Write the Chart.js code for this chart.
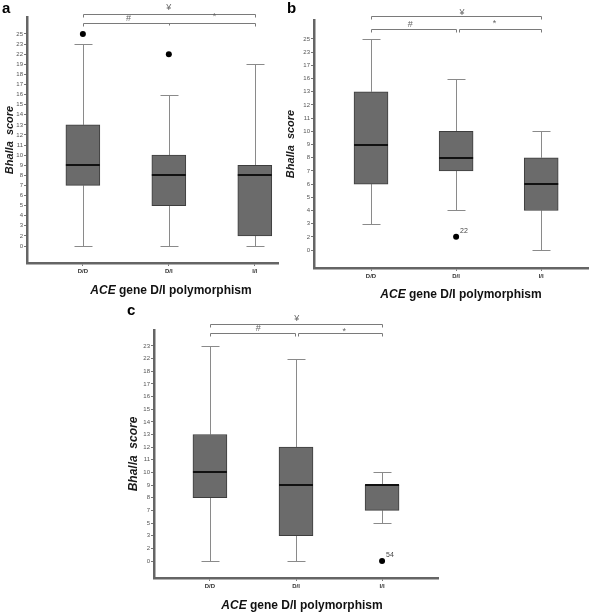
<!DOCTYPE html>
<html><head><meta charset="utf-8">
<script src="https://cdn.jsdelivr.net/npm/chart.js@4"></script>
<style>
body{margin:0;background:#fff;width:600px;height:612px;position:relative;overflow:hidden;font-family:"Liberation Sans",Arial,sans-serif}
canvas{position:absolute}
.lbl{position:absolute;font-weight:bold;font-size:15px;line-height:15px;color:#000}
.xt{position:absolute;font-weight:bold;font-size:12px;line-height:12px;white-space:nowrap;transform:translateX(-50%);color:#111}
</style></head><body>
<canvas id="ca" width="300" height="300" style="left:0;top:0"></canvas>
<canvas id="cb" width="320" height="300" style="left:280px;top:0"></canvas>
<canvas id="cc" width="340" height="312" style="left:120px;top:300px"></canvas>
<div class="lbl" style="left:2px;top:0px">a</div>
<div class="lbl" style="left:287px;top:0px">b</div>
<div class="lbl" style="left:127px;top:302px">c</div>
<div class="xt" style="left:171px;top:284px"><i>ACE</i> gene D/I polymorphism</div>
<div class="xt" style="left:461px;top:288px"><i>ACE</i> gene D/I polymorphism</div>
<div class="xt" style="left:302px;top:599px"><i>ACE</i> gene D/I polymorphism</div>
<script>
const categories = ['D/D', 'D/I', 'I/I'];

// Panel a
const aTicks = [0,2,3,4,5,6,7,8,9,10,11,12,13,14,15,16,17,18,19,22,23,25];
const aMin = [0, 0, 0];
const aQ1 = [7, 5, 2];
const aMedian = [9, 8, 8];
const aQ3 = [13, 10, 9];
const aMax = [23, 16, 19];
const aOutliers = [[25], [22], []];
const aOutlierLabels = [[''], [''], []];

// Panel b
const bTicks = [0,2,3,4,5,6,7,8,9,10,11,12,13,16,17,23,25];
const bMin = [3, 4, 0];
const bQ1 = [6, 7, 4];
const bMedian = [9, 8, 6];
const bQ3 = [13, 10, 8];
const bMax = [25, 16, 10];
const bOutliers = [[], [2], []];
const bOutlierLabels = [[], ['22'], []];

// Panel c
const cTicks = [0,2,3,5,7,8,9,10,11,12,13,14,15,16,17,18,22,23];
const cMin = [0, 0, 5];
const cQ1 = [8, 3, 7];
const cMedian = [10, 9, 9];
const cQ3 = [13, 12, 9];
const cMax = [23, 22, 10];
const cOutliers = [[], [], [0]];
const cOutlierLabels = [[], [], ['54']];

const boxExtras = {
  id: 'boxExtras',
  beforeDatasetsDraw(chart, args, o) {
    const ctx = chart.ctx, xs = chart.scales.x, ys = chart.scales.y;
    const ix = v => o.ticks.indexOf(v);
    ctx.save();
    ctx.strokeStyle = '#8a8a8a';
    ctx.lineWidth = 1;
    categories.forEach((c, i) => {
      const x = Math.round(xs.getPixelForValue(i)) + 0.5;
      const yMax = Math.round(ys.getPixelForValue(ix(o.max[i]))) + 0.5;
      const yMin = Math.round(ys.getPixelForValue(ix(o.min[i]))) + 0.5;
      const yQ1 = ys.getPixelForValue(ix(o.q1[i]));
      const yQ3 = ys.getPixelForValue(ix(o.q3[i]));
      ctx.beginPath();
      ctx.moveTo(x, yQ3); ctx.lineTo(x, yMax);
      ctx.moveTo(x - 9, yMax); ctx.lineTo(x + 9, yMax);
      ctx.moveTo(x, yQ1); ctx.lineTo(x, yMin);
      ctx.moveTo(x - 9, yMin); ctx.lineTo(x + 9, yMin);
      ctx.stroke();
    });
    ctx.restore();
  },
  afterDatasetsDraw(chart, args, o) {
    const ctx = chart.ctx, xs = chart.scales.x, ys = chart.scales.y;
    const ix = v => o.ticks.indexOf(v);
    ctx.save();
    // medians
    ctx.strokeStyle = '#111';
    ctx.lineWidth = 2;
    categories.forEach((c, i) => {
      const x = xs.getPixelForValue(i);
      const y = Math.round(ys.getPixelForValue(ix(o.median[i])));
      ctx.beginPath();
      ctx.moveTo(x - 17, y); ctx.lineTo(x + 17, y);
      ctx.stroke();
    });
    // outlier labels
    ctx.fillStyle = '#444';
    ctx.font = '7px "Liberation Sans", Arial';
    ctx.textAlign = 'left';
    ctx.textBaseline = 'bottom';
    o.outliers.forEach((arr, i) => arr.forEach((v, k) => {
      const t = o.outlierLabels[i][k];
      if (!t) return;
      ctx.fillText(t, xs.getPixelForValue(i) + 4, ys.getPixelForValue(ix(v)) - 2);
    }));
    // significance brackets
    ctx.strokeStyle = '#7a7a7a';
    ctx.lineWidth = 1;
    o.brackets.forEach(b => {
      const x1 = Math.round(xs.getPixelForValue(b.from) + (b.dx1 || 0)) + 0.5;
      const x2 = Math.round(xs.getPixelForValue(b.to) + (b.dx2 || 0)) + 0.5;
      const y = b.y + 0.5;
      ctx.beginPath();
      ctx.moveTo(x1, y + 3); ctx.lineTo(x1, y); ctx.lineTo(x2, y); ctx.lineTo(x2, y + 3);
      if (b.mid !== undefined) {
        const xm = Math.round(xs.getPixelForValue(b.mid)) + 0.5;
        ctx.moveTo(xm, y); ctx.lineTo(xm, y + 2);
      }
      ctx.stroke();
    });
    ctx.fillStyle = '#666';
    ctx.font = '9px "Liberation Sans", Arial';
    ctx.textAlign = 'center';
    ctx.textBaseline = 'middle';
    o.symbols.forEach(s => ctx.fillText(s.t, xs.getPixelForValue(s.x), s.y));
    ctx.restore();
  }
};

function makePanel(id, o) {
  const t = o.ticks, ix = v => t.indexOf(v);
  const gridOpt = { drawOnChartArea: false, drawTicks: true, tickLength: 3, color: '#777', lineWidth: 1, offset: false };
  const borderOpt = { color: '#656565', width: 2.5 };
  new Chart(document.getElementById(id), {
    type: 'bar',
    data: {
      datasets: [
        {
          type: 'bar',
          data: categories.map((c, i) => ({ x: i, y: [ix(o.q1[i]), ix(o.q3[i])] })),
          backgroundColor: '#6b6b6b', borderColor: '#3d3d3d', borderWidth: 1,
          borderSkipped: false, barThickness: 34, order: 1
        },
        {
          type: 'scatter',
          data: o.outliers.flatMap((arr, i) => arr.map(v => ({ x: i, y: ix(v) }))),
          pointRadius: 3, backgroundColor: '#000', borderColor: '#000', borderWidth: 0, order: 0
        }
      ]
    },
    plugins: [boxExtras],
    options: {
      responsive: false, animation: false,
      layout: { padding: o.pad },
      plugins: { legend: { display: false }, tooltip: { enabled: false }, boxExtras: o },
      scales: {
        x: {
          type: 'linear', min: o.xmin, max: o.xmax, offset: false,
          afterBuildTicks: s => { s.ticks = [0, 1, 2].map(v => ({ value: v })); },
          afterFit: s => { s.height = 20; },
          ticks: { callback: v => categories[v], font: { size: 6, weight: 'bold', family: '"Liberation Sans", Arial' }, color: '#333', padding: 2, maxRotation: 0, autoSkip: false },
          grid: gridOpt, border: borderOpt
        },
        y: {
          type: 'linear', min: o.ymin, max: o.ymax,
          afterBuildTicks: s => { s.ticks = t.map((v, i) => ({ value: i })); },
          afterFit: s => { s.width = o.yw; },
          ticks: { callback: v => t[v], font: { size: 6, family: '"Liberation Sans", Arial' }, color: '#555', padding: 1, autoSkip: false },
          grid: gridOpt, border: borderOpt,
          title: { display: true, text: 'Bhalla  score', color: '#1a1a1a', font: { size: o.tsize, weight: 'bold', style: 'italic', family: '"Liberation Sans", Arial' }, padding: { top: o.tpad, bottom: 0 } }
        }
      }
    }
  });
}

makePanel('ca', {
  ticks: aTicks, min: aMin, q1: aQ1, median: aMedian, q3: aQ3, max: aMax,
  outliers: aOutliers, outlierLabels: aOutlierLabels,
  pad: { left: 0, top: 17, right: 22, bottom: 17 }, yw: 27, tpad: 3, tsize: 11,
  xmin: -0.65, xmax: 2.27, ymin: -1.68, ymax: 22.68,
  brackets: [{ from: 0, to: 2, y: 14 }, { from: 0, to: 2, y: 23, mid: 1 }],
  symbols: [{ t: '¥', x: 1, y: 8 }, { t: '#', x: 0.53, y: 19 }, { t: '*', x: 1.53, y: 17 }]
});
makePanel('cb', {
  ticks: bTicks, min: bMin, q1: bQ1, median: bMedian, q3: bQ3, max: bMax,
  outliers: bOutliers, outlierLabels: bOutlierLabels,
  pad: { left: 0, top: 20, right: 12, bottom: 12 }, yw: 34, tpad: 4, tsize: 11,
  xmin: -0.67, xmax: 2.55, ymin: -1.36, ymax: 17.44,
  brackets: [{ from: 0, to: 2, y: 16 }, { from: 0, to: 1, y: 29 }, { from: 1, to: 2, y: 29, dx1: 3 }],
  symbols: [{ t: '¥', x: 1.07, y: 13 }, { t: '#', x: 0.46, y: 25 }, { t: '*', x: 1.45, y: 24 }]
});
makePanel('cc', {
  ticks: cTicks, min: cMin, q1: cQ1, median: cMedian, q3: cQ3, max: cMax,
  outliers: cOutliers, outlierLabels: cOutlierLabels,
  pad: { left: 0, top: 30, right: 22, bottom: 14 }, yw: 34, tpad: 6, tsize: 12,
  xmin: -0.65, xmax: 2.65, ymin: -1.34, ymax: 18.26,
  brackets: [{ from: 0, to: 2, y: 24 }, { from: 0, to: 1, y: 33, dx2: -1 }, { from: 1, to: 2, y: 33, dx1: 2 }],
  symbols: [{ t: '¥', x: 1.01, y: 19 }, { t: '#', x: 0.56, y: 29 }, { t: '*', x: 1.56, y: 32 }]
});
</script>
</body></html>
